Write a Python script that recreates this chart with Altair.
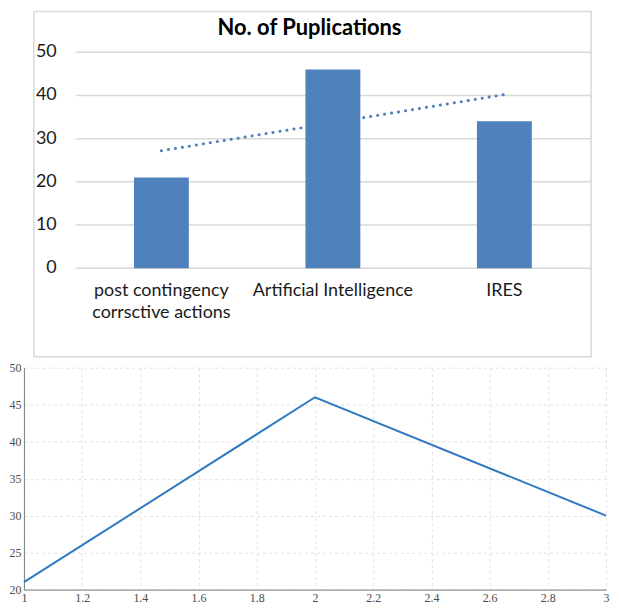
import altair as alt
import pandas as pd

# ---- data ----
categories = ["post contingency\ncorrsctive actions", "Artificial Intelligence", "IRES"]
publications = [21, 46, 34]
trend_values = [27.2, 33.7, 40.2]          # Excel linear trendline
top_y_ticks = [0, 10, 20, 30, 40, 50]
title_text = ["No. of Puplications"]

line_x = [1, 2, 3]
line_y = [21, 46, 30]
bottom_x_ticks = [1, 1.2, 1.4, 1.6, 1.8, 2, 2.2, 2.4, 2.6, 2.8, 3]
bottom_y_ticks = [20, 25, 30, 35, 40, 45, 50]

top_df = pd.DataFrame({"cat": categories, "pubs": publications, "trend": trend_values})
tick_df = pd.DataFrame({"v": top_y_ticks})
title_df = pd.DataFrame({"t": title_text})
line_df = pd.DataFrame({"x": line_x, "y": line_y})

BLUE = "#4f81bd"
GRID = "#d9d9d9"
SANS = "Lato"
TOP_W, TOP_H = 570, 217

x_top = alt.X(
    "cat:N",
    sort=categories,
    scale=alt.Scale(range=[52, 569], paddingInner=0.68, paddingOuter=0.34),
    axis=alt.Axis(
        title=None, labelAngle=0, domain=False, ticks=False, labelPadding=13,
        labelFont=SANS, labelFontSize=18, labelColor="#1a1a1a",
        labelExpr="split(datum.label, '\\n')", labelLineHeight=23,
        labelBaseline="top", labelOverlap=False, labelLimit=300,
    ),
)


def y_top(field):
    return alt.Y(f"{field}:Q", scale=alt.Scale(domain=[0, 50]), axis=None)


frame = alt.Chart(title_df).mark_rect(
    filled=False, stroke=GRID, strokeWidth=1.5
).encode(
    x=alt.value(10), x2=alt.value(570), y=alt.value(-41), y2=alt.value(306)
)

title = alt.Chart(title_df).mark_text(
    font=SANS, fontSize=22, fontWeight="bold", color="#000000",
    align="center", baseline="middle",
).encode(text="t:N", x=alt.value(287), y=alt.value(-24))

grid = alt.Chart(tick_df).mark_rule(color=GRID, strokeWidth=1.5).encode(
    y=y_top("v"), x=alt.value(52), x2=alt.value(570)
)

ylabels = alt.Chart(tick_df).mark_text(
    font=SANS, fontSize=18, color="#1a1a1a", align="right", baseline="middle"
).encode(y=y_top("v"), text="v:Q", x=alt.value(33))

trend = alt.Chart(top_df).mark_line(
    color=BLUE, strokeWidth=3, strokeDash=[0.1, 7], strokeCap="round"
).encode(x=x_top, y=y_top("trend"))

bars = alt.Chart(top_df).mark_bar(color=BLUE).encode(x=x_top, y=y_top("pubs"))

top = alt.layer(frame, title, grid, ylabels, trend, bars).properties(
    width=TOP_W, height=TOP_H
)

SERIF = "Liberation Serif"
bottom = alt.Chart(line_df).mark_line(color="#3079c1", strokeWidth=2).encode(
    x=alt.X(
        "x:Q",
        scale=alt.Scale(domain=[1, 3], nice=False, zero=False),
        axis=alt.Axis(
            title=None, values=bottom_x_ticks, format="~g", grid=True,
            gridDash=[3, 3], gridColor="#e2e2e2", domainColor="#7a7a7a",
            ticks=False, labelFont=SERIF, labelFontSize=12, labelColor="#4a4a4a",
            labelPadding=3, labelFlush=False,
        ),
    ),
    y=alt.Y(
        "y:Q",
        scale=alt.Scale(domain=[20, 50], nice=False, zero=False),
        axis=alt.Axis(
            title=None, values=bottom_y_ticks, grid=True, gridDash=[3, 3],
            gridColor="#e2e2e2", domainColor="#7a7a7a", ticks=False,
            labelFont=SERIF, labelFontSize=12, labelColor="#4a4a4a",
            labelPadding=3, minExtent=15,
        ),
    ),
).properties(width=585, height=223)

chart = alt.vconcat(top, bottom, spacing=2).properties(padding=0).configure_view(
    stroke="transparent"
)

chart.save("out.html", embed_options={"renderer": "svg", "actions": False})
